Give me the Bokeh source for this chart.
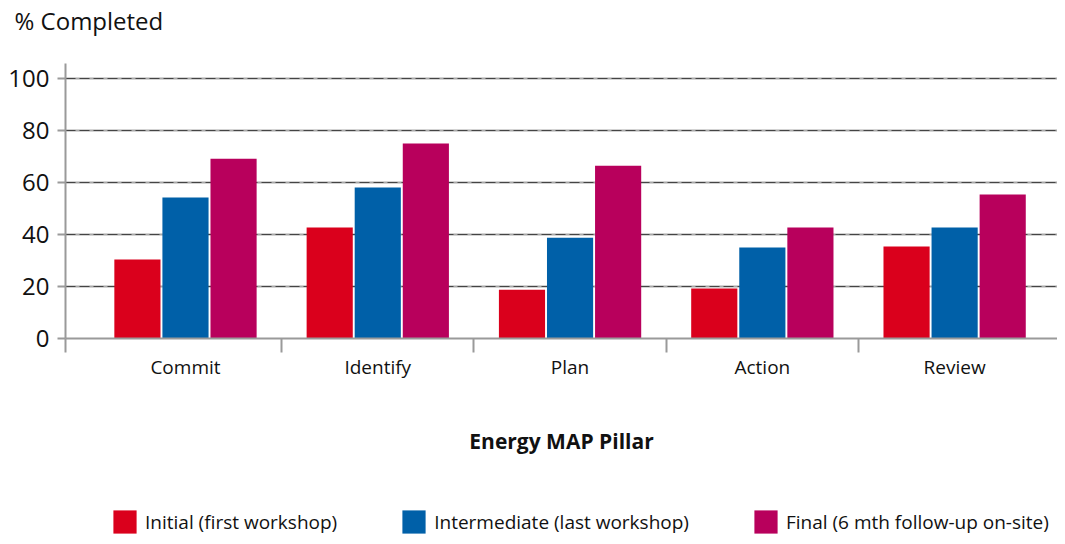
from bokeh.plotting import figure
from bokeh.models import (Range1d, FixedTicker, Legend, LegendItem, Grid,
                          ColumnDataSource)
from bokeh.layouts import column
from bokeh.transform import dodge
from bokeh.embed import file_html
from bokeh.resources import INLINE

categories = ["Commit", "Identify", "Plan", "Action", "Review"]
initial = [30.4, 42.7, 18.8, 19.2, 35.4]
intermediate = [54.2, 58.1, 38.8, 35.0, 42.7]
final = [69.2, 75.0, 66.5, 42.7, 55.4]
series_names = ["Initial (first workshop)", "Intermediate (last workshop)",
                "Final (6 mth follow-up on-site)"]
y_ticks = [0, 20, 40, 60, 80, 100]
y_title = "% Completed"
x_title = "Energy MAP Pillar"

colors = ["#DA001C", "#0060A8", "#B8005C"]
series_cols = ["initial", "intermediate", "final"]
FONT = "Open Sans"
W = 1057

xc = [i + 0.5 for i in range(len(categories))]
src = ColumnDataSource(dict(x=xc, initial=initial, intermediate=intermediate, final=final))

# ---- top strip holding the "% Completed" caption
top = figure(width=W, height=45, x_range=Range1d(0, 1), y_range=Range1d(0, 1),
             output_backend="svg", toolbar_location=None, x_axis_type=None,
             y_axis_type=None, min_border=0)
top.outline_line_color = None
top.grid.grid_line_color = None
top.title.text = y_title
top.title.text_font = FONT
top.title.text_font_size = "24px"
top.title.text_font_style = "normal"
top.title.align = "left"
top.title.offset = -51
top.title.standoff = 3
top.title.text_color = "#111111"

# ---- main chart
x_start, x_end = -0.124, 5.035
p = figure(width=W, height=435, x_range=Range1d(x_start, x_end),
           y_range=Range1d(0, 105.8), output_backend="svg", toolbar_location=None,
           min_border_left=65, min_border_right=0, min_border_top=18,
           min_border_bottom=142)
p.outline_line_color = None
p.background_fill_color = "white"

for off, col, c in zip([-0.25, 0.0, 0.25], series_cols, colors):
    p.vbar(x=dodge("x", off, range=p.x_range), top=col, width=0.24, bottom=0,
           source=src, fill_color=c, line_color=None)

# y axis
p.yaxis.ticker = FixedTicker(ticks=y_ticks)
p.yaxis.axis_line_color = "#9a9a9a"
p.yaxis.axis_line_width = 2
p.yaxis.major_tick_line_color = "#9a9a9a"
p.yaxis.major_tick_line_width = 2
p.yaxis.major_tick_out = 8
p.yaxis.major_tick_in = 0
p.yaxis.minor_tick_line_color = None
p.yaxis.major_label_text_font = FONT
p.yaxis.major_label_text_font_size = "24px"
p.yaxis.major_label_text_color = "#111111"
p.yaxis.major_label_standoff = 8

# x axis
p.xaxis.ticker = FixedTicker(ticks=xc, minor_ticks=[x_start, 1, 2, 3, 4])
p.xaxis.major_label_overrides = {x: c for x, c in zip(xc, categories)}
p.xaxis.axis_line_color = "#9a9a9a"
p.xaxis.axis_line_width = 2
p.xaxis.major_tick_line_color = None
p.xaxis.major_tick_out = 0
p.xaxis.major_tick_in = 0
p.xaxis.minor_tick_line_color = "#9a9a9a"
p.xaxis.minor_tick_line_width = 2
p.xaxis.minor_tick_out = 14
p.xaxis.minor_tick_in = 0
p.xaxis.major_label_text_font = FONT
p.xaxis.major_label_text_font_size = "19px"
p.xaxis.major_label_text_color = "#111111"
p.xaxis.major_label_standoff = 1
p.xaxis.axis_label = x_title
p.xaxis.axis_label_text_font = FONT
p.xaxis.axis_label_text_font_size = "21px"
p.xaxis.axis_label_text_font_style = "bold"
p.xaxis.axis_label_text_color = "#111111"
p.xaxis.axis_label_standoff = 44

# grids
p.xgrid.grid_line_color = None
p.ygrid.grid_line_color = "#a8a8a8"
p.ygrid.grid_line_width = 2
p.add_layout(Grid(dimension=1, ticker=p.yaxis[0].ticker, grid_line_color="#444444",
                  grid_line_width=1, grid_line_dash="10 4"))

# ---- legend strip (its bars fall outside its visible range; only the legend shows)
lg = figure(width=W, height=56, x_range=Range1d(0, 5), y_range=Range1d(1000, 1001),
            output_backend="svg", toolbar_location=None, x_axis_type=None,
            y_axis_type=None, min_border=0)
lg.outline_line_color = None
lg.grid.grid_line_color = None
lrs = []
for off, col, c in zip([-0.25, 0.0, 0.25], series_cols, colors):
    lrs.append(lg.vbar(x=dodge("x", off, range=lg.x_range), top=col, width=0.24,
                       bottom=0, source=src, fill_color=c, line_color=None))
legend = Legend(items=[LegendItem(label=n, renderers=[r]) for n, r in zip(series_names, lrs)],
                orientation="horizontal", location=(45, 0), padding=0, margin=0,
                spacing=62, glyph_width=29, glyph_height=29, label_standoff=6,
                label_text_font=FONT, label_text_font_size="19px",
                label_text_color="#111111", border_line_color=None,
                background_fill_alpha=0, label_height=29)
lg.add_layout(legend, "center")

layout = column(top, p, lg, spacing=0)
open("out.html", "w").write(file_html(layout, INLINE))
